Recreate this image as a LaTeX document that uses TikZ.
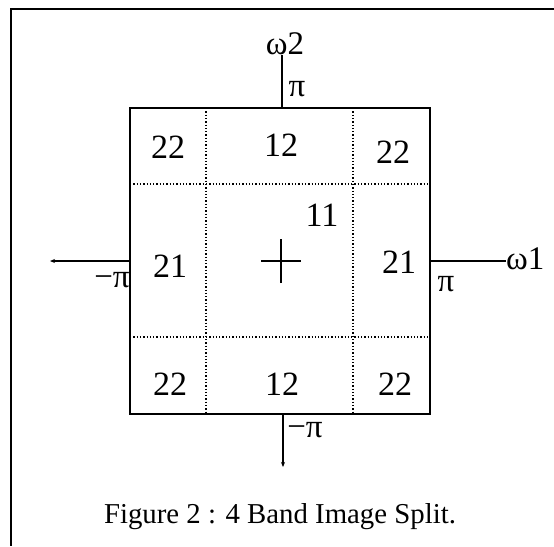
\documentclass[tikz,border=0pt]{standalone}
\usepackage{fontspec}
\setmainfont{Liberation Serif}
\usetikzlibrary{arrows.meta}
\begin{document}
\begin{tikzpicture}[x=1pt,y=-1pt,
  cell/.style={inner sep=0pt,font=\fontsize{34}{34}\selectfont},
  axlabel/.style={inner sep=0pt,font=\fontsize{33}{33}\selectfont},
  pilabel/.style={inner sep=0pt,font=\fontsize{33}{33}\selectfont},
  solidline/.style={line width=1.6pt},
  dotline/.style={line width=1.3pt,dotted},
  axis/.style={line width=1.1pt},
  axarrow/.style={axis,-{Stealth[length=5pt,width=4pt]}}]
\useasboundingbox (0,0) rectangle (554,546);
% outer frame (top and left only)
\coordinate (ftl) at (11,9);
\coordinate (ftr) at (554,9);
\coordinate (fbl) at (11,546);
\draw[solidline] (ftr) -- (ftl) -- (fbl);
% square
\coordinate (sq1) at (130,108);
\coordinate (sq2) at (430,414);
\draw[dotline] (206,108) -- (206,414);
\draw[dotline] (353,108) -- (353,414);
\draw[dotline] (130,184) -- (430,184);
\draw[dotline] (130,337) -- (430,337);
\draw[solidline] (sq1) rectangle (sq2);
% axes
\coordinate (atop) at (282,108);
\coordinate (abot) at (283,414);
\coordinate (aleft) at (130,261);
\coordinate (aright) at (430,261);
\coordinate (bend) at (283,467);
\coordinate (lend) at (50,261);
\node[axlabel] (w2) at (285,44) {ω2};
\node[axlabel,anchor=west] (w1) at (506,259) {ω1};
\draw[axis] (atop) -- (atop |- w2.south);
\draw[axarrow] (abot) -- (bend);
\draw[axarrow] (aleft) -- (lend);
\draw[axis] (aright) -- (w1.west |- aright);
% pi labels
\node[pilabel] (ptop) at (297,89) {π};
\node[pilabel] (pleft) at (112,280) {−π};
\node[pilabel] (pright) at (446,284) {π};
\node[pilabel] (pbot) at (305,430) {−π};
% cells
\node[cell] (c22a) at (168,147) {22};
\node[cell] (c12a) at (281,145) {12};
\node[cell] (c22b) at (393,152) {22};
\node[cell] (c21a) at (170,266) {21};
\node[cell] (c11) at (322,215) {11};
\node[cell] (c21b) at (399,262) {21};
\node[cell] (c22c) at (170,384) {22};
\node[cell] (c12b) at (282,384) {12};
\node[cell] (c22d) at (395,384) {22};
% centre cross
\coordinate (cc) at (281,261);
\draw[axis] ([xshift=-20pt]cc) -- ([xshift=20pt]cc);
\draw[axis] ([yshift=-22pt]cc) -- ([yshift=22pt]cc);
% caption
\node[inner sep=0pt,font=\fontsize{28.8}{28.8}\selectfont] (cap) at (280,517) {Figure 2 : 4 Band Image Split.};
\end{tikzpicture}
\end{document}
